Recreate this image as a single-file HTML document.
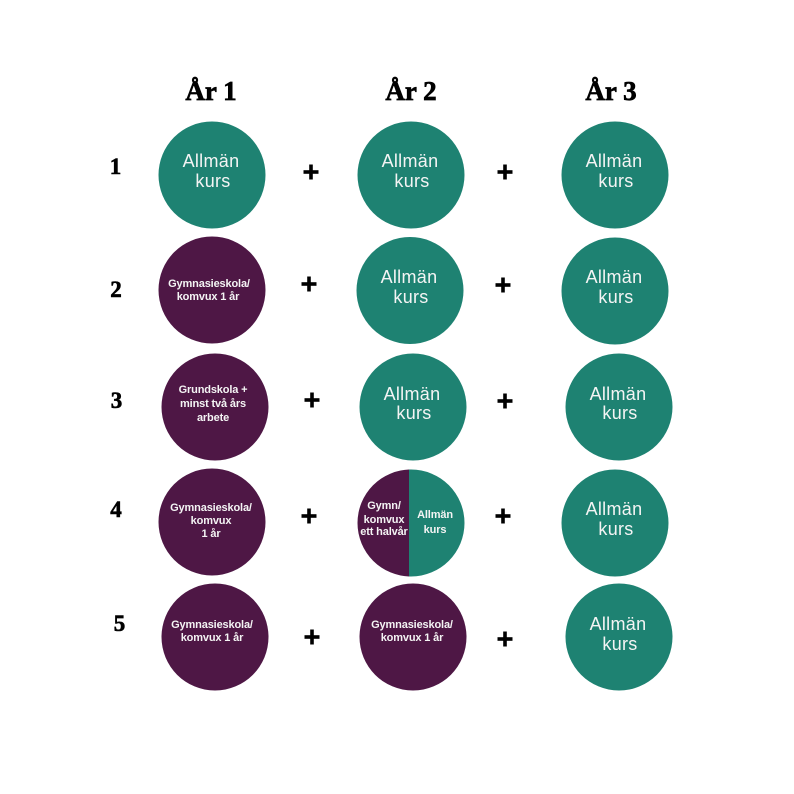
<!DOCTYPE html>
<html>
<head>
<meta charset="utf-8">
<style>
html,body{margin:0;padding:0;background:#fff;}
svg{display:block;}
.h{font-family:"Liberation Serif",serif;font-weight:bold;font-size:27px;fill:#000;stroke:#000;stroke-width:0.7px;}
.n{font-family:"Liberation Serif",serif;font-weight:bold;font-size:23px;fill:#000;stroke:#000;stroke-width:0.6px;}
.t{font-family:"Liberation Sans",sans-serif;font-size:18px;fill:#f4f4f4;letter-spacing:0.3px;}
.p{font-family:"Liberation Sans",sans-serif;font-weight:bold;font-size:11px;fill:#f4f4f4;letter-spacing:-0.15px;}
.T{fill:#1e8272;}
.P{fill:#4e1745;}
</style>
</head>
<body>
<svg width="794" height="794" viewBox="0 0 794 794" xmlns="http://www.w3.org/2000/svg">
<rect width="794" height="794" fill="#fff"/>
<!-- headings -->
<text class="h" x="211" y="100" text-anchor="middle">År 1</text>
<text class="h" x="411" y="100" text-anchor="middle">År 2</text>
<text class="h" x="611" y="100" text-anchor="middle">År 3</text>
<!-- row numbers -->
<text class="n" x="115.5" y="174" text-anchor="middle">1</text>
<text class="n" x="116" y="297" text-anchor="middle">2</text>
<text class="n" x="116.5" y="408" text-anchor="middle">3</text>
<text class="n" x="116" y="517" text-anchor="middle">4</text>
<text class="n" x="119.5" y="631" text-anchor="middle">5</text>

<!-- Row 1 -->
<circle class="T" cx="212" cy="175" r="53.5"/>
<text class="t" x="211" y="167" text-anchor="middle">Allmän</text>
<text class="t" x="213" y="187" text-anchor="middle">kurs</text>
<circle class="T" cx="411" cy="175" r="53.5"/>
<text class="t" x="410" y="167" text-anchor="middle">Allmän</text>
<text class="t" x="412" y="187" text-anchor="middle">kurs</text>
<circle class="T" cx="615" cy="175" r="53.5"/>
<text class="t" x="614" y="167" text-anchor="middle">Allmän</text>
<text class="t" x="616" y="187" text-anchor="middle">kurs</text>

<!-- Row 2 -->
<circle class="P" cx="212" cy="290" r="53.5"/>
<text class="p" x="209" y="287" text-anchor="middle">Gymnasieskola/</text>
<text class="p" x="208" y="300" text-anchor="middle">komvux 1 år</text>
<circle class="T" cx="410" cy="290.5" r="53.5"/>
<text class="t" x="409" y="283" text-anchor="middle">Allmän</text>
<text class="t" x="411" y="303" text-anchor="middle">kurs</text>
<circle class="T" cx="615" cy="291" r="53.5"/>
<text class="t" x="614" y="283" text-anchor="middle">Allmän</text>
<text class="t" x="616" y="303" text-anchor="middle">kurs</text>

<!-- Row 3 -->
<circle class="P" cx="215" cy="407" r="53.5"/>
<text class="p" x="213" y="393" text-anchor="middle">Grundskola +</text>
<text class="p" x="213" y="407" text-anchor="middle">minst två års</text>
<text class="p" x="213" y="421" text-anchor="middle">arbete</text>
<circle class="T" cx="413" cy="407" r="53.5"/>
<text class="t" x="412" y="400" text-anchor="middle">Allmän</text>
<text class="t" x="414" y="419" text-anchor="middle">kurs</text>
<circle class="T" cx="619" cy="407" r="53.5"/>
<text class="t" x="618" y="400" text-anchor="middle">Allmän</text>
<text class="t" x="620" y="419" text-anchor="middle">kurs</text>

<!-- Row 4 -->
<circle class="P" cx="212" cy="522" r="53.5"/>
<text class="p" x="211" y="511" text-anchor="middle">Gymnasieskola/</text>
<text class="p" x="211" y="524" text-anchor="middle">komvux</text>
<text class="p" x="211" y="537" text-anchor="middle">1 år</text>
<defs>
<clipPath id="cl"><rect x="350" y="460" width="59" height="130"/></clipPath>
<clipPath id="cr"><rect x="409" y="460" width="70" height="130"/></clipPath>
</defs>
<circle class="P" cx="411" cy="523" r="53.5" clip-path="url(#cl)"/>
<circle class="T" cx="411" cy="523" r="53.5" clip-path="url(#cr)"/>
<text class="p" x="384" y="509" text-anchor="middle">Gymn/</text>
<text class="p" x="384" y="523" text-anchor="middle">komvux</text>
<text class="p" x="384" y="535" text-anchor="middle">ett halvår</text>
<text class="p" x="435" y="518" text-anchor="middle">Allmän</text>
<text class="p" x="435" y="533" text-anchor="middle">kurs</text>
<circle class="T" cx="615" cy="523" r="53.5"/>
<text class="t" x="614" y="515" text-anchor="middle">Allmän</text>
<text class="t" x="616" y="535" text-anchor="middle">kurs</text>

<!-- Row 5 -->
<circle class="P" cx="215" cy="637" r="53.5"/>
<text class="p" x="212" y="628" text-anchor="middle">Gymnasieskola/</text>
<text class="p" x="212" y="641" text-anchor="middle">komvux 1 år</text>
<circle class="P" cx="413" cy="637" r="53.5"/>
<text class="p" x="412" y="628" text-anchor="middle">Gymnasieskola/</text>
<text class="p" x="412" y="641" text-anchor="middle">komvux 1 år</text>
<circle class="T" cx="619" cy="637" r="53.5"/>
<text class="t" x="618" y="630" text-anchor="middle">Allmän</text>
<text class="t" x="620" y="650" text-anchor="middle">kurs</text>

<!-- plus signs -->
<g fill="#000">
<rect x="303.5" y="170.2" width="15" height="3.6"/><rect x="309.2" y="164.5" width="3.6" height="15"/>
<rect x="497.5" y="170.2" width="15" height="3.6"/><rect x="503.2" y="164.5" width="3.6" height="15"/>

<rect x="301.5" y="282.2" width="15" height="3.6"/><rect x="307.2" y="276.5" width="3.6" height="15"/>
<rect x="495.5" y="283.2" width="15" height="3.6"/><rect x="501.2" y="277.5" width="3.6" height="15"/>

<rect x="304.5" y="398.2" width="15" height="3.6"/><rect x="310.2" y="392.5" width="3.6" height="15"/>
<rect x="497.5" y="399.2" width="15" height="3.6"/><rect x="503.2" y="393.5" width="3.6" height="15"/>

<rect x="301.5" y="514.2" width="15" height="3.6"/><rect x="307.2" y="508.5" width="3.6" height="15"/>
<rect x="495.5" y="514.2" width="15" height="3.6"/><rect x="501.2" y="508.5" width="3.6" height="15"/>

<rect x="304.5" y="635.2" width="15" height="3.6"/><rect x="310.2" y="629.5" width="3.6" height="15"/>
<rect x="497.5" y="637.2" width="15" height="3.6"/><rect x="503.2" y="631.5" width="3.6" height="15"/>
</g>
</svg>
</body>
</html>
